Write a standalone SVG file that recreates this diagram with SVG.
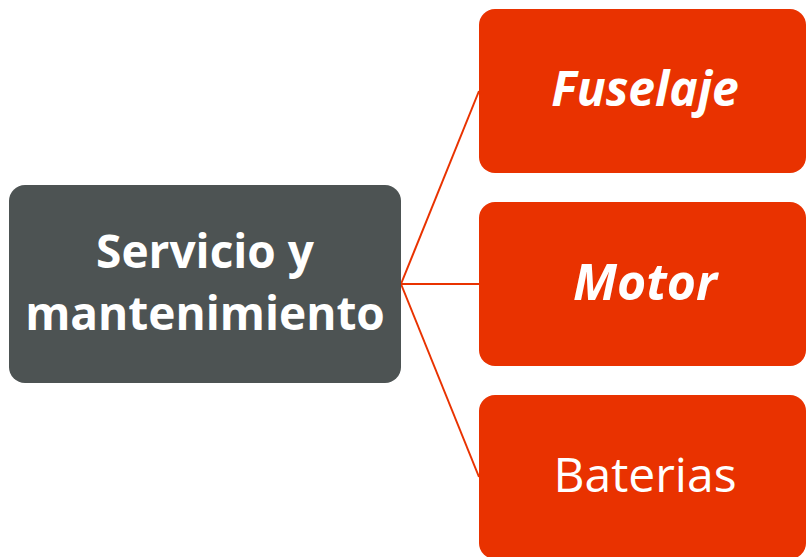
<svg xmlns="http://www.w3.org/2000/svg" width="806" height="557" viewBox="0 0 806 557">
<style>
.main{fill:#4D5353}
.leaf{fill:#E93200}
.t{fill:#FFFFFF;font-family:"Open Sans","Liberation Sans",sans-serif;text-anchor:middle}
.b{font-weight:bold}
.i{font-style:italic;font-weight:bold}
.c{stroke:#E93200;stroke-width:2;fill:none}
</style>
<rect width="806" height="557" fill="#FFFFFF"/>
<g id="connectors">
<line class="c" x1="401" y1="284" x2="479" y2="91"/>
<line class="c" x1="401" y1="284" x2="479" y2="284"/>
<line class="c" x1="401" y1="284" x2="479" y2="477"/>
</g>
<g id="node-servicio">
<rect class="main" x="9" y="185" width="392" height="198" rx="16"/>
<text class="t b" x="205" y="268" font-size="46">Servicio y</text>
<text class="t b" x="205" y="330" font-size="46">mantenimiento</text>
</g>
<g id="node-fuselaje">
<rect class="leaf" x="479" y="9" width="327" height="164" rx="16"/>
<text class="t i" x="645" y="106" font-size="48">Fuselaje</text>
</g>
<g id="node-motor">
<rect class="leaf" x="479" y="202" width="327" height="164" rx="16"/>
<text class="t i" x="645" y="300" font-size="50">Motor</text>
</g>
<g id="node-baterias">
<rect class="leaf" x="479" y="395" width="327" height="164" rx="16"/>
<text class="t" x="645" y="492" font-size="48">Baterias</text>
</g>
</svg>
